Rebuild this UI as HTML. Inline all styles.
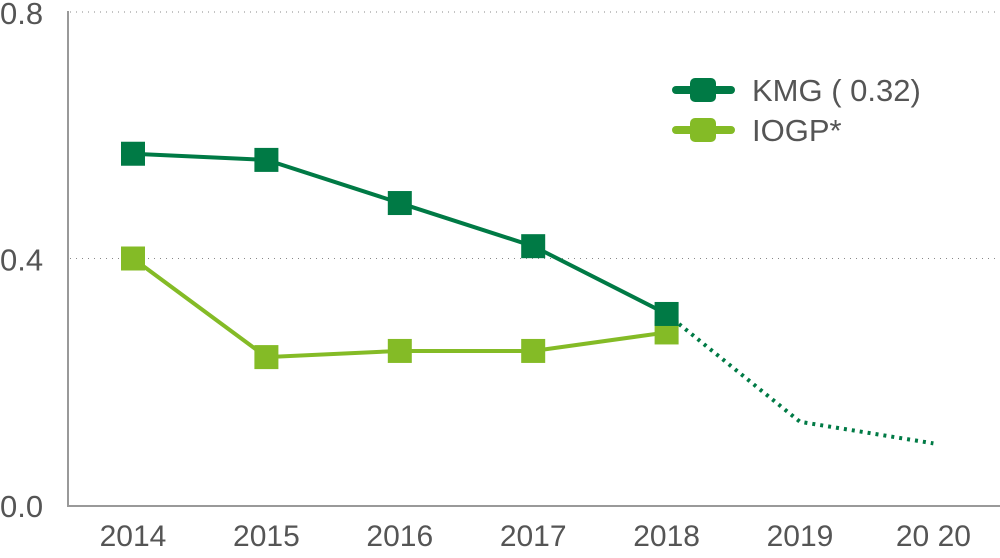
<!DOCTYPE html>
<html><head><meta charset="utf-8"><style>
body{margin:0;background:#fff;}
svg text{font-family:"Liberation Sans",sans-serif;fill:#555;}
</style></head><body>
<svg width="1000" height="553" viewBox="0 0 1000 553">
<g id="grid"></g><g id="axes"></g><g id="series"></g>
<g>
 <g>
  <line x1="676" y1="90" x2="731" y2="90" stroke="#007a45" stroke-width="8" stroke-linecap="round"/>
  <rect x="690" y="78" width="26" height="24" rx="5" fill="#007a45"/>
  <text x="752" y="101" font-size="31">KMG ( 0.32)</text>
 </g>
 <g>
  <line x1="676" y1="130" x2="731" y2="130" stroke="#84bb26" stroke-width="8" stroke-linecap="round"/>
  <rect x="690" y="118" width="26" height="24" rx="5" fill="#84bb26"/>
  <text x="752" y="141" font-size="31">IOGP*</text>
 </g>
</g>
</svg>
<script>
const years=["2014","2015","2016","2017","2018","2019","2020"];
const kmg=[0.57,0.56,0.49,0.42,0.31];
const kmgForecast=[0.31,0.135,0.10];
const iogp=[0.40,0.24,0.25,0.25,0.28];
const yTicks=[0,0.4,0.8];
const yTickLabels=["0.0","0.4","0.8"];
const NS="http://www.w3.org/2000/svg";
const x=i=>133+i*133.4;
const y=v=>505-v*616.25;
function mk(t,a,p){const e=document.createElementNS(NS,t);for(const k in a)e.setAttribute(k,a[k]);p.appendChild(e);return e;}
const grid=document.getElementById('grid'),axes=document.getElementById('axes'),ser=document.getElementById('series');
yTicks.forEach((v,i)=>{
 if(v>0){const g=mk('line',{x1:70,x2:1000,y1:y(v),y2:y(v),stroke:'#888','stroke-width':1,'stroke-dasharray':'1 5'},grid);
 
 }
 const t=mk('text',{x:0,y:y(v)+12,'font-size':31},axes);t.textContent=yTickLabels[i];
 
 
});
const ya=mk('line',{x1:68,x2:68,y1:11,y2:506,stroke:'#999','stroke-width':2},axes);


const xa=mk('line',{x1:67,x2:1000,y1:506,y2:506,stroke:'#999','stroke-width':2},axes);


years.forEach((yr,i)=>{const t=mk('text',{x:x(i),y:546,'font-size':30,'text-anchor':'middle'},axes);t.textContent=i==6?"20 20":yr;
 
 });
const fp=mk('polyline',{points:kmgForecast.map((v,i)=>x(i+4)+','+y(v)).join(' '),fill:'none',stroke:'#007a45','stroke-width':4,'stroke-dasharray':'3 5'},ser);


function series(vals,col,name){
 const p=mk('polyline',{points:vals.map((v,i)=>x(i)+','+y(v)).join(' '),fill:'none',stroke:col,'stroke-width':4},ser);
 
 
 vals.forEach((v,i)=>{const r=mk('rect',{x:x(i)-12,y:y(v)-12,width:24,height:24,fill:col},ser);
  
  });
}
series(iogp,'#84bb26','iogp');
series(kmg,'#007a45','kmg');
</script>
</body></html>
